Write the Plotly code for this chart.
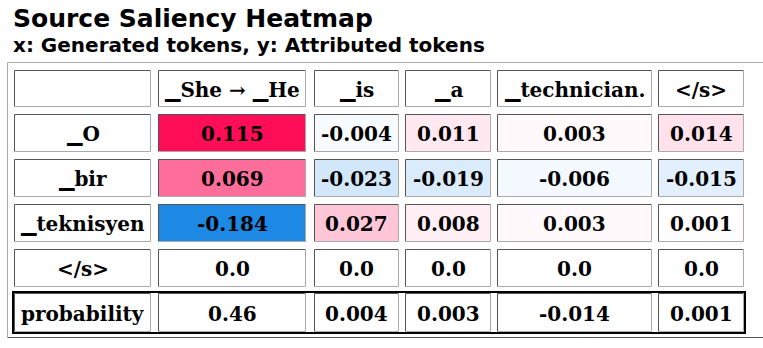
import plotly.graph_objects as go

# ---- data -------------------------------------------------------------
generated_tokens = ["▁She → ▁He", "▁is", "▁a", "▁technician.", "</s>"]
attributed_tokens = ["▁O", "▁bir", "▁teknisyen", "</s>"]
scores = [
    [0.115, -0.004, 0.011, 0.003, 0.014],
    [0.069, -0.023, -0.019, -0.006, -0.015],
    [-0.184, 0.027, 0.008, 0.003, 0.001],
    [0.0, 0.0, 0.0, 0.0, 0.0],
]
probability = [0.46, 0.004, 0.003, -0.014, 0.001]

# ---- layout constants (pixel grid) -------------------------------------
W, H = 763, 348
col_edges = [(14, 151), (158, 306), (314, 399), (405, 491), (497, 652), (658, 744)]
row_edges = [(70, 107), (114, 152), (159, 197), (204, 242), (249, 287), (293, 332)]
POS = (255, 13, 87)
NEG = (30, 136, 229)
LIMIT = 0.115
DARK = "#555555"
LIGHT = "#aaaaaa"
CELL_FONT = dict(family="DejaVu Serif", size=20, color="black", weight="bold")


def esc(s):
    return s.replace("&", "&amp;").replace("<", "&lt;").replace(">", "&gt;")


def cell_color(v):
    if v is None:
        return "white"
    t = min(abs(v) / LIMIT, 1.0)
    base = POS if v > 0 else NEG
    r, g, b = (round(255 + (c - 255) * t) for c in base)
    return f"rgb({r},{g},{b})"


shapes = []
annotations = []


def add_cell(col, row, text, value=None):
    x0, x1 = col_edges[col]
    y0, y1 = row_edges[row]
    shapes.append(dict(type="rect", xref="x", yref="y", x0=x0, x1=x1, y0=y0, y1=y1,
                       fillcolor=cell_color(value), line=dict(width=0), layer="below"))
    # inset border: dark top/left, light bottom/right
    shapes.append(dict(type="path", xref="x", yref="y",
                       path=f"M{x0 + 0.5},{y1} L{x0 + 0.5},{y0 + 0.5} L{x1},{y0 + 0.5}",
                       line=dict(color=DARK, width=1)))
    shapes.append(dict(type="path", xref="x", yref="y",
                       path=f"M{x1 - 0.5},{y0} L{x1 - 0.5},{y1 - 0.5} L{x0},{y1 - 0.5}",
                       line=dict(color=LIGHT, width=1)))
    if text:
        annotations.append(dict(x=(x0 + x1) / 2, y=(y0 + y1) / 2 + 1, xref="x", yref="y",
                                text=esc(text), showarrow=False, font=CELL_FONT,
                                xanchor="center", yanchor="middle"))


# header row
add_cell(0, 0, "")
for j, tok in enumerate(generated_tokens):
    add_cell(j + 1, 0, tok)

# score rows
for i, tok in enumerate(attributed_tokens):
    add_cell(0, i + 1, tok)
    for j, v in enumerate(scores[i]):
        add_cell(j + 1, i + 1, str(v), v)

# probability row
prob_row = len(attributed_tokens) + 1
add_cell(0, prob_row, "probability")
for j, p in enumerate(probability):
    add_cell(j + 1, prob_row, str(p))

# black outline around the probability row
shapes.append(dict(type="rect", xref="x", yref="y",
                   x0=col_edges[0][0] - 1, x1=col_edges[-1][1] + 1,
                   y0=row_edges[prob_row][0] - 1, y1=row_edges[prob_row][1] + 1,
                   line=dict(color="black", width=2)))

# outer table frame (outset: light top/left, dark bottom)
shapes.append(dict(type="path", xref="x", yref="y",
                   path="M7.5,338 L7.5,62.5 L763,62.5", line=dict(color=LIGHT, width=1)))
shapes.append(dict(type="path", xref="x", yref="y",
                   path="M8,337.5 L763,337.5", line=dict(color=DARK, width=1)))

# titles
annotations.append(dict(x=11, y=18, xref="x", yref="y", text="Source Saliency Heatmap",
                        showarrow=False, xanchor="left", yanchor="middle",
                        font=dict(family="DejaVu Sans", size=25, color="black", weight="bold")))
annotations.append(dict(x=11, y=45, xref="x", yref="y",
                        text="x: Generated tokens, y: Attributed tokens",
                        showarrow=False, xanchor="left", yanchor="middle",
                        font=dict(family="DejaVu Sans", size=20, color="black", weight="bold")))

fig = go.Figure()
fig.add_trace(go.Scatter(x=[0, W], y=[0, H], mode="markers", marker=dict(opacity=0),
                         hoverinfo="skip", showlegend=False))
fig.update_layout(
    width=W, height=H, margin=dict(l=0, r=0, t=0, b=0),
    paper_bgcolor="white", plot_bgcolor="white",
    xaxis=dict(range=[0, W], visible=False, fixedrange=True),
    yaxis=dict(range=[H, 0], visible=False, fixedrange=True),
    shapes=shapes, annotations=annotations, showlegend=False,
)
fig.write_html("out.html")
